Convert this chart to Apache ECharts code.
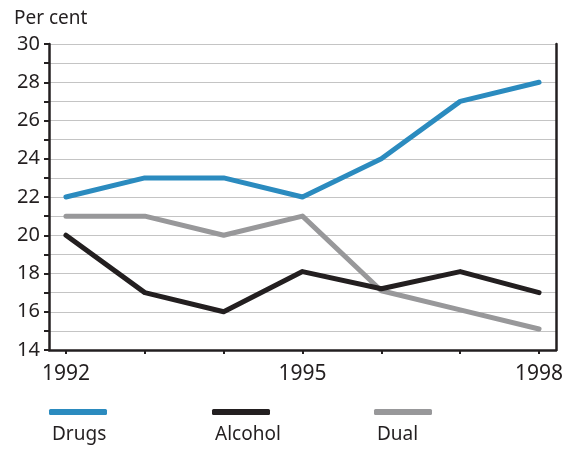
<!DOCTYPE html>
<html>
<head>
<meta charset="utf-8">
<script src="https://cdn.jsdelivr.net/npm/echarts@6/dist/echarts.min.js"></script>
<style>
  html, body { margin: 0; padding: 0; background: #fff; }
  #chart { width: 568px; height: 450px; }
</style>
</head>
<body>
<div id="chart"></div>
<script>
var years = [1992, 1993, 1994, 1995, 1996, 1997, 1998];
var yearLabels = [1992, 1995, 1998];
var yTicks = [14, 15, 16, 17, 18, 19, 20, 21, 22, 23, 24, 25, 26, 27, 28, 29, 30];

var drugs = [22, 23, 23, 22, 24, 27, 28];
var alcohol = [20, 17, 16, 18.1, 17.2, 18.1, 17];
var dual = [21, 21, 20, 21, 17.1, 16.1, 15.1];

var names = ['Drugs', 'Alcohol', 'Dual'];
var colors = ['#2b8bbf', '#231f20', '#98989a'];
var font = '"Noto Sans", sans-serif';

function pairs(vals) {
	return years.map(function (y, i) { return [y, vals[i]]; });
}

var chart = echarts.init(document.getElementById('chart'));

var legendLeft = [49, 212, 374];
var legends = [];
var labels = [];
names.forEach(function (n, i) {
	legends.push({
		data: [{ name: n, icon: 'roundRect' }],
		left: legendLeft[i],
		top: 409,
		padding: 0,
		itemWidth: 58,
		itemHeight: 6,
		selectedMode: false,
		formatter: function () { return ''; }
	});
	labels.push({
		type: 'text',
		left: legendLeft[i] + 3,
		top: 425,
		style: { text: n, font: '19px ' + font, fill: '#231f20' }
	});
});

function lineStyle(c) {
	return { width: 5, color: c, cap: 'round', join: 'round' };
}

var option = {
	animation: false,
	color: colors,
	title: {
		text: 'Per cent',
		left: 9,
		top: 4,
		textStyle: { fontFamily: font, fontSize: 19, fontWeight: 'normal', color: '#231f20' }
	},
	legend: legends,
	graphic: labels,
	grid: { left: 49, right: 12, top: 44, bottom: 100 },
	xAxis: {
		type: 'value',
		min: 1991.785,
		max: 1998.215,
		axisLine: { onZero: false, lineStyle: { color: '#231f20', width: 2.5 } },
		axisTick: { customValues: years, length: 4, lineStyle: { color: '#231f20', width: 2 } },
		axisLabel: {
			customValues: yearLabels,
			margin: 14,
			fontFamily: font,
			fontSize: 21,
			color: '#231f20',
			formatter: function (v) { return String(v); }
		},
		splitLine: { show: false }
	},
	yAxis: [{
		type: 'value',
		min: 14,
		max: 30,
		interval: 2,
		axisLine: { show: true, lineStyle: { color: '#231f20', width: 2.5 } },
		axisTick: { show: true, customValues: yTicks, length: 5, lineStyle: { color: '#231f20', width: 2 } },
		axisLabel: { margin: 9, fontFamily: font, fontSize: 20, color: '#231f20' },
		splitLine: { lineStyle: { color: '#c4c4c4', width: 1 } }
	}, {
		type: 'value',
		min: 14,
		max: 30,
		position: 'right',
		axisLine: { show: true, lineStyle: { color: '#231f20', width: 2.5 } },
		axisTick: { show: false },
		axisLabel: { show: false },
		splitLine: { show: false }
	}],
	series: [
		{ name: 'Dual', type: 'line', data: pairs(dual), symbol: 'none', z: 2,
			lineStyle: lineStyle(colors[2]), itemStyle: { color: colors[2] } },
		{ name: 'Alcohol', type: 'line', data: pairs(alcohol), symbol: 'none', z: 3,
			lineStyle: lineStyle(colors[1]), itemStyle: { color: colors[1] } },
		{ name: 'Drugs', type: 'line', data: pairs(drugs), symbol: 'none', z: 4,
			lineStyle: lineStyle(colors[0]), itemStyle: { color: colors[0] } }
	]
};

chart.setOption(option);
</script>
</body>
</html>
